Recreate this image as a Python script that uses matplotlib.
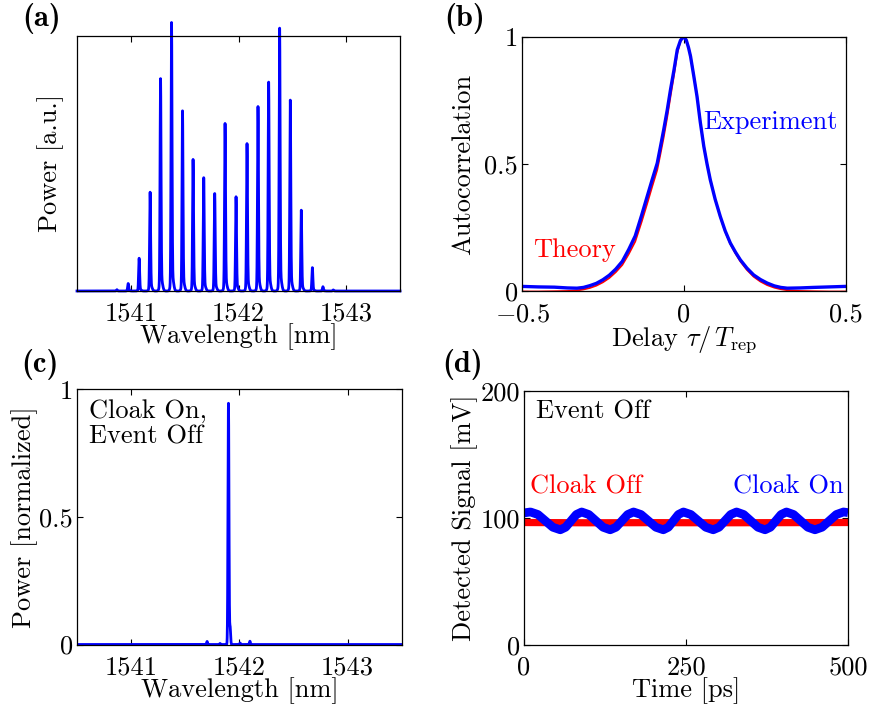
import numpy as np
import matplotlib
matplotlib.use("Agg")
import matplotlib.pyplot as plt

plt.rcParams.update({
    "font.family": "serif",
    "font.serif": ["cmr10"],
    "mathtext.fontset": "cm",
    "axes.formatter.use_mathtext": True,
    "axes.linewidth": 0.9,
    "xtick.direction": "in",
    "ytick.direction": "in",
    "xtick.top": True,
    "ytick.right": True,
    "xtick.major.size": 4,
    "ytick.major.size": 4,
    "xtick.major.width": 0.8,
    "ytick.major.width": 0.8,
    "font.size": 19,
})

BLUE = "#0000ff"
RED = "#ff0000"

# ---------------- data ----------------
# (a) comb line spectrum
comb_centers = [1540.87, 1540.975, 1541.077, 1541.179, 1541.276, 1541.378, 1541.480,
                1541.578, 1541.677, 1541.779, 1541.875, 1541.977, 1542.079, 1542.181,
                1542.280, 1542.382, 1542.481, 1542.583, 1542.686, 1542.784, 1542.88]
comb_heights = [0.005, 0.028, 0.122, 0.368, 0.791, 1.0, 0.671, 0.490, 0.422, 0.363,
                0.624, 0.351, 0.549, 0.687, 0.778, 0.979, 0.711, 0.301, 0.087, 0.016, 0.004]
wl_ticks = [1541, 1542, 1543]
wl_ticklabels = ["1541", "1542", "1543"]

# (b) autocorrelation
delay = [-0.5, -0.45, -0.40, -0.36, -0.33, -0.31, -0.29, -0.27, -0.25, -0.23, -0.21,
         -0.19, -0.17, -0.15, -0.13, -0.113, -0.098, -0.082, -0.072, -0.062, -0.051,
         -0.041, -0.030, -0.020, -0.010, 0.0, 0.008, 0.015, 0.021, 0.031, 0.041, 0.051,
         0.062, 0.072, 0.082, 0.097, 0.113, 0.128, 0.144, 0.160, 0.175, 0.195, 0.216,
         0.237, 0.258, 0.28, 0.30, 0.32, 0.36, 0.40, 0.45, 0.5]
ac_experiment = [0.020, 0.018, 0.017, 0.014, 0.013, 0.016, 0.023, 0.032, 0.046, 0.064,
                 0.088, 0.118, 0.165, 0.218, 0.300, 0.373, 0.437, 0.503, 0.568, 0.634,
                 0.712, 0.791, 0.870, 0.948, 0.985, 1.0, 0.985, 0.955, 0.922, 0.845,
                 0.765, 0.665, 0.569, 0.500, 0.438, 0.362, 0.294, 0.238, 0.190, 0.154,
                 0.124, 0.092, 0.065, 0.047, 0.033, 0.022, 0.016, 0.013, 0.014, 0.016,
                 0.018, 0.020]
ac_theory = [0.0, 0.0, 0.001, 0.002, 0.004, 0.008, 0.014, 0.023, 0.036, 0.053, 0.076,
             0.104, 0.147, 0.196, 0.274, 0.345, 0.410, 0.477, 0.540, 0.605, 0.685,
             0.765, 0.850, 0.935, 0.982, 1.0, 0.987, 0.958, 0.925, 0.848, 0.768, 0.668,
             0.572, 0.502, 0.440, 0.362, 0.292, 0.235, 0.186, 0.149, 0.118, 0.085,
             0.058, 0.039, 0.025, 0.015, 0.009, 0.005, 0.002, 0.001, 0.0, 0.0]

# (c) cloak on, event off spectrum
c_centers = [1541.70, 1541.82, 1541.898, 1541.913, 1542.005, 1542.096]
c_heights = [0.012, 0.004, 0.945, 0.07, 0.006, 0.013]

# (d) detected signal
t_on = [0, 10, 21.5, 33, 44.5, 56, 64.25, 72.5, 80.75, 89, 100, 111, 122, 133, 142, 151,
        160, 169, 180.5, 192, 203.5, 215, 222.75, 230.5, 238.25, 246, 257.5, 269, 280.5,
        292, 301, 310, 319, 328, 339, 350, 361, 372, 380.25, 388.5, 396.75, 405, 416,
        427, 438, 449, 460, 471, 482, 493, 500]
v_on = [103.8, 104.5, 102.5, 97.5, 92.5, 90.5, 92.5, 97.5, 102.5, 104.5, 102.5, 97.5,
        92.5, 90.5, 92.5, 97.5, 102.5, 104.5, 102.5, 97.5, 92.5, 90.5, 92.5, 97.5, 102.5,
        104.5, 102.5, 97.5, 92.5, 90.5, 92.5, 97.5, 102.5, 104.5, 102.5, 97.5, 92.5, 90.5,
        92.5, 97.5, 102.5, 104.5, 102.5, 97.5, 92.5, 90.5, 92.5, 97.5, 102.5, 104.5, 104.0]
t_off = [0, 100, 200, 300, 400, 500]
v_off = [96.2, 96.0, 96.1, 96.0, 96.1, 96.2]

W, H = 877, 706
fig = plt.figure(figsize=(W / 100, H / 100), dpi=100)


def box(l, t, r, b):
    return [l / W, 1 - b / H, (r - l) / W, (b - t) / H]


axa = fig.add_axes(box(77, 36, 400, 291))
axb = fig.add_axes(box(522, 36.5, 845.5, 291.5))
axc = fig.add_axes(box(77.3, 389.3, 401.7, 644.5))
axd = fig.add_axes(box(524, 390.7, 848, 644.7))

# ---- (a)
wl = np.linspace(1540.5, 1543.5, 6001)
spec = np.zeros_like(wl)
for c, h in zip(comb_centers, comb_heights):
    spec += h * np.exp(-0.5 * ((wl - c) / 0.0045) ** 2)
    spec += 0.06 * h * np.exp(-0.5 * ((wl - c - 0.006) / 0.012) ** 2)
axa.plot(wl, spec, color=BLUE, lw=2.0, clip_on=False)
axa.set_xlim(1540.5, 1543.5)
axa.set_ylim(0, 1.0)
axa.set_xticks(wl_ticks, wl_ticklabels)
axa.set_yticks([])
axa.set_xlabel("Wavelength [nm]")
axa.set_ylabel("Power [a.u.]")

# ---- (b)
axb.plot(delay, ac_theory, color=RED, lw=1.3)
axb.plot(delay, ac_experiment, color=BLUE, lw=2.4, solid_joinstyle="round")
axb.set_xlim(-0.5, 0.5)
axb.set_ylim(0, 1)
axb.set_xticks([-0.5, 0, 0.5], ["$-0.5$", "0", "0.5"])
axb.set_yticks([0, 0.5, 1], ["0", "0.5", "1"])
axb.set_xlabel(r"Delay $\tau/\,T_{\mathrm{rep}}$")
axb.set_ylabel("Autocorrelation")
axb.text(0.035, 0.163, "Theory", color=RED, transform=axb.transAxes, va="center")
axb.text(0.56, 0.665, "Experiment", color=BLUE, transform=axb.transAxes, va="center")

# ---- (c)
specc = np.zeros_like(wl)
for c, h in zip(c_centers, c_heights):
    specc += h * np.exp(-0.5 * ((wl - c) / 0.0045) ** 2)
axc.plot(wl, specc, color=BLUE, lw=2.0)
axc.set_xlim(1540.5, 1543.5)
axc.set_ylim(0, 1)
axc.set_xticks(wl_ticks, wl_ticklabels)
axc.set_yticks([0, 0.5, 1], ["0", "0.5", "1"])
axc.set_xlabel("Wavelength [nm]")
axc.set_ylabel("Power [normalized]")
axc.text(0.035, 0.96, "Cloak On,\nEvent Off", transform=axc.transAxes, va="top",
         linespacing=1.05)

# ---- (d)
axd.plot(t_off, v_off, color=RED, lw=5.2, solid_capstyle="butt")
axd.plot(t_on, v_on, color=BLUE, lw=6.3, solid_joinstyle="round", solid_capstyle="butt")
axd.set_xlim(0, 500)
axd.set_ylim(0, 200)
axd.set_xticks([0, 250, 500], ["0", "250", "500"])
axd.set_yticks([0, 100, 200], ["0", "100", "200"])
axd.set_xlabel("Time [ps]")
axd.set_ylabel("Detected Signal [mV]")
axd.text(0.037, 0.917, "Event Off", transform=axd.transAxes, va="center")
axd.text(0.02, 0.622, "Cloak Off", color=RED, transform=axd.transAxes, va="center")
axd.text(0.985, 0.622, "Cloak On", color=BLUE, transform=axd.transAxes, va="center",
         ha="right")

for ax in (axa, axb, axc, axd):
    ax.tick_params(axis="x", pad=8)
    ax.tick_params(axis="y", pad=3)

axa.yaxis.set_label_coords(-0.04, 0.5)
axb.yaxis.set_label_coords(-0.145, 0.5)
axc.yaxis.set_label_coords(-0.122, 0.5)
axd.yaxis.set_label_coords(-0.142, 0.5)
for ax in (axa, axb, axc, axd):
    ax.xaxis.set_label_coords(0.5, -0.128)

for lab, x, y in [("(a)", 42, 19), ("(b)", 465, 19), ("(c)", 40, 364), ("(d)", 463, 364)]:
    fig.text(x / W, 1 - y / H, lab, family="cmb10", fontsize=22, ha="center", va="center")

fig.savefig("out.png", dpi=100)
